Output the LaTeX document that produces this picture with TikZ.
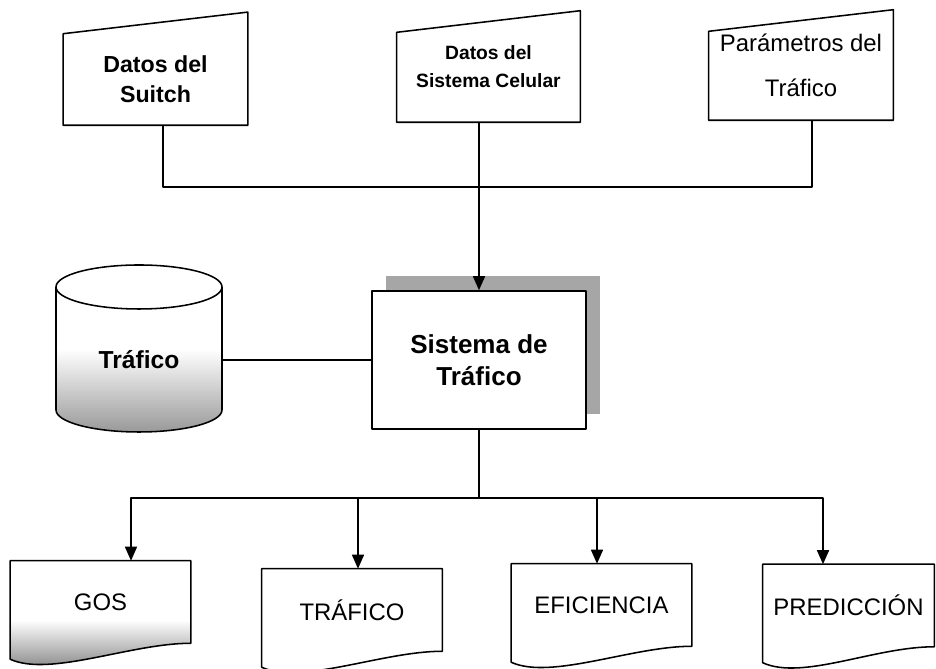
\documentclass[tikz,border=0pt]{standalone}
\usepackage{fontspec}
\setmainfont{Liberation Sans}
\usetikzlibrary{arrows.meta,shadows}

\tikzset{
  link/.style={line width=1.1pt},
  tip/.tip={Triangle[length=0.35cm, width=0.3cm]},
  arrow/.style={link, -tip},
  inbox/.style={minimum width=4.6cm, minimum height=2.25cm, inner sep=0pt,
    align=center, font=\fontsize{16.5}{21.5}\selectfont\bfseries},
  procbox/.style={draw, line width=1.1pt, fill=white, minimum width=5.35cm,
    minimum height=3.45cm, align=center, font=\fontsize{18.5}{23}\selectfont\bfseries,
    drop shadow={shadow xshift=0.36cm, shadow yshift=0.38cm, fill=black!35, opacity=1}},
  docbox/.style={minimum width=4.5cm, minimum height=2.05cm, inner sep=0pt,
    font=\fontsize{17}{20}\selectfont},
}

\begin{document}
\begin{tikzpicture}[line join=round]
    \useasboundingbox (0,0) rectangle (23.4,16.725);

    % entradas
    \node [inbox, minimum height=2.275cm] (in1) at (3.8875,14.7375) {Datos del\\Suitch};
    \node [inbox, minimum width=4.575cm, minimum height=2.775cm,
      font=\fontsize{13.7}{19.5}\selectfont\bfseries]
      (in2) at (12.2125,15.0625) {Datos del\\Sistema Celular};
    \node [inbox, minimum height=2.75cm, font=\fontsize{17}{32}\selectfont]
      (in3) at (20.025,15.1) {Parámetros del\\Tráfico};
    \draw [link] (in1.south west) -- (in1.north west)
      -- ([yshift=0.54cm]in1.north east) -- (in1.south east) -- cycle;
    \foreach \n in {in2,in3}
      \draw [link] (\n.south west) -- ([yshift=-0.54cm]\n.north west)
        -- (\n.north east) -- (\n.south east) -- cycle;

    % sistema
    \node [procbox] (sys) at (11.975,7.725) {Sistema de\\Tráfico};

    % base de datos
    \shade [top color=white, bottom color=black!40]
      (1.4,8.0) -- (1.4,6.475)
      arc [start angle=180, end angle=360, x radius=2.075cm, y radius=0.55cm]
      -- (5.55,8.0) -- cycle;
    \draw [link] (1.4,9.55) -- (1.4,6.475)
      arc [start angle=180, end angle=360, x radius=2.075cm, y radius=0.55cm]
      -- (5.55,9.55);
    \draw [link] (3.475,9.55) ellipse [x radius=2.075cm, y radius=0.55cm];
    \node [minimum width=4.15cm, font=\fontsize{17.5}{21}\selectfont\bfseries]
      (db) at (3.475,7.725) {Tráfico};

    % salidas
    \node [docbox] (gos) at (2.5125,1.675) {GOS};
    \node [docbox] (traf) at (8.8,1.475) {TRÁFICO};
    \node [docbox] (efic) at (15.0375,1.6) {EFICIENCIA};
    \node [docbox, minimum width=4.275cm] (pred) at (21.2125,1.5875) {PREDICCIÓN};
    \begin{scope}
      \clip (gos.north west) -- (gos.north east) -- (gos.south east)
        .. controls +(-1.5,0) and +(1.0,-0.45) .. ([yshift=-0.4cm]gos.south west) -- cycle;
      \shade [top color=white, bottom color=black!45]
        ([yshift=-0.45cm]gos.west) rectangle ([yshift=-0.6cm]gos.south east);
    \end{scope}
    \foreach \n in {gos,traf,efic,pred}
      \draw [link] ([yshift=-0.4cm]\n.south west) -- (\n.north west) -- (\n.north east)
        -- (\n.south east) .. controls +(-1.5,0) and +(1.0,-0.45)
        .. ([yshift=-0.4cm]\n.south west) -- cycle;

    % conexiones
    \coordinate (bus1) at (4.075,12.05);
    \coordinate (bus2) at (20.3,12.05);
    \draw [link] (in1.south -| bus1) -- (bus1) -- (bus2) -- (in3.south -| bus2);
    \draw [arrow] (in2.south -| sys.north) -- (sys.north);
    \draw [link] (db.east) -- (sys.west);

    \coordinate (out1) at (3.275,4.275);
    \coordinate (out2) at (8.95,4.275);
    \coordinate (out3) at (14.925,4.275);
    \coordinate (out4) at (20.575,4.275);
    \draw [link] (sys.south) -- (sys.south |- out1);
    \draw [link, tip-tip] (gos.north -| out1) -- (out1) -- (out4) -- (pred.north -| out4);
    \draw [arrow] (out2) -- (traf.north -| out2);
    \draw [arrow] (out3) -- (efic.north -| out3);
\end{tikzpicture}
\end{document}
